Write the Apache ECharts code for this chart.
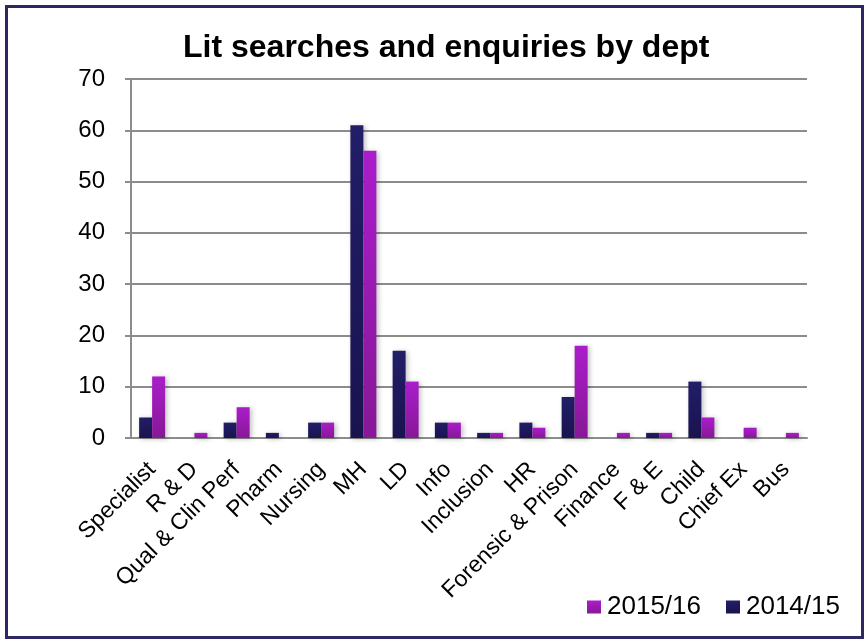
<!DOCTYPE html>
<html>
<head>
<meta charset="utf-8">
<script src="https://cdn.jsdelivr.net/npm/echarts@6/dist/echarts.min.js"></script>
<style>
  html, body { margin: 0; padding: 0; background: #ffffff; }
  #chart { width: 865px; height: 639px; }
</style>
</head>
<body>
<div id="chart"></div>
<script>
// Departments along the x axis
var departments = ['Specialist', 'R & D', 'Qual & Clin Perf', 'Pharm', 'Nursing', 'MH', 'LD', 'Info',
  'Inclusion', 'HR', 'Forensic & Prison', 'Finance', 'F & E', 'Child', 'Chief Ex', 'Bus'];

// Literature searches and enquiries per year
var year1415 = [4, 0, 3, 1, 3, 61, 17, 3, 1, 3, 8, 0, 1, 11, 0, 0];
var year1516 = [12, 1, 6, 0, 3, 56, 11, 3, 1, 2, 18, 1, 1, 4, 2, 1];

var seriesNames = ['2014/15', '2015/16'];
var legendOrder = ['2015/16', '2014/15'];

var FONT = 'Liberation Sans, Arial, sans-serif';

function vgrad(top, bottom) {
  return new echarts.graphic.LinearGradient(0, 0, 0, 1, [
    { offset: 0, color: top },
    { offset: 1, color: bottom }
  ]);
}

var navy = vgrad('#221e68', '#19134f');
var purple = vgrad('#aa1dcb', '#871896');

var chart = echarts.init(document.getElementById('chart'), null, { renderer: 'canvas' });

var barStyle = function (fill) {
  return {
    color: fill,
    shadowColor: 'rgba(0,0,0,0.25)',
    shadowBlur: 5,
    shadowOffsetX: 2,
    shadowOffsetY: 1
  };
};

chart.setOption({
  animation: false,
  backgroundColor: '#ffffff',
  graphic: [{
    type: 'rect',
    left: 4, top: 4,
    shape: { width: 856, height: 631 },
    style: { fill: 'none', stroke: '#2c2865', lineWidth: 3 },
    z: 100
  }],
  title: {
    text: 'Lit searches and enquiries by dept',
    left: 178,
    top: 27,
    textStyle: { fontFamily: FONT, fontWeight: 'bold', fontSize: 32, color: '#000' }
  },
  legend: {
    data: legendOrder.map(function (n) { return { name: n, icon: 'rect' }; }),
    left: 582,
    top: 589,
    itemWidth: 14,
    itemHeight: 13,
    itemGap: 25,
    textStyle: { fontFamily: FONT, fontSize: 26, color: '#000', padding: [0, 0, 0, 1] }
  },
  grid: { left: 131, right: 58, top: 79, bottom: 201, containLabel: false },
  xAxis: {
    type: 'category',
    data: departments,
    axisLine: { lineStyle: { color: '#8c8c8c', width: 2 } },
    axisTick: { alignWithLabel: false, length: 7, lineStyle: { color: '#8c8c8c', width: 2 } },
    axisLabel: {
      rotate: 45,
      interval: 0,
      margin: 28,
      fontFamily: FONT,
      fontSize: 23,
      color: '#000'
    }
  },
  yAxis: {
    type: 'value',
    min: 0, max: 70, interval: 10,
    axisLine: { show: true, lineStyle: { color: '#8c8c8c', width: 2 } },
    axisTick: { show: true, length: 6, lineStyle: { color: '#8c8c8c', width: 2 } },
    splitLine: { lineStyle: { color: '#8c8c8c', width: 2 } },
    axisLabel: {
      margin: 26,
      fontFamily: FONT,
      fontSize: 24,
      color: '#000'
    }
  },
  series: [
    { name: seriesNames[0], type: 'bar', data: year1415, barWidth: 13, barGap: '0%', itemStyle: barStyle(navy) },
    { name: seriesNames[1], type: 'bar', data: year1516, barWidth: 13, barGap: '0%', itemStyle: barStyle(purple) }
  ]
});
</script>
</body>
</html>
